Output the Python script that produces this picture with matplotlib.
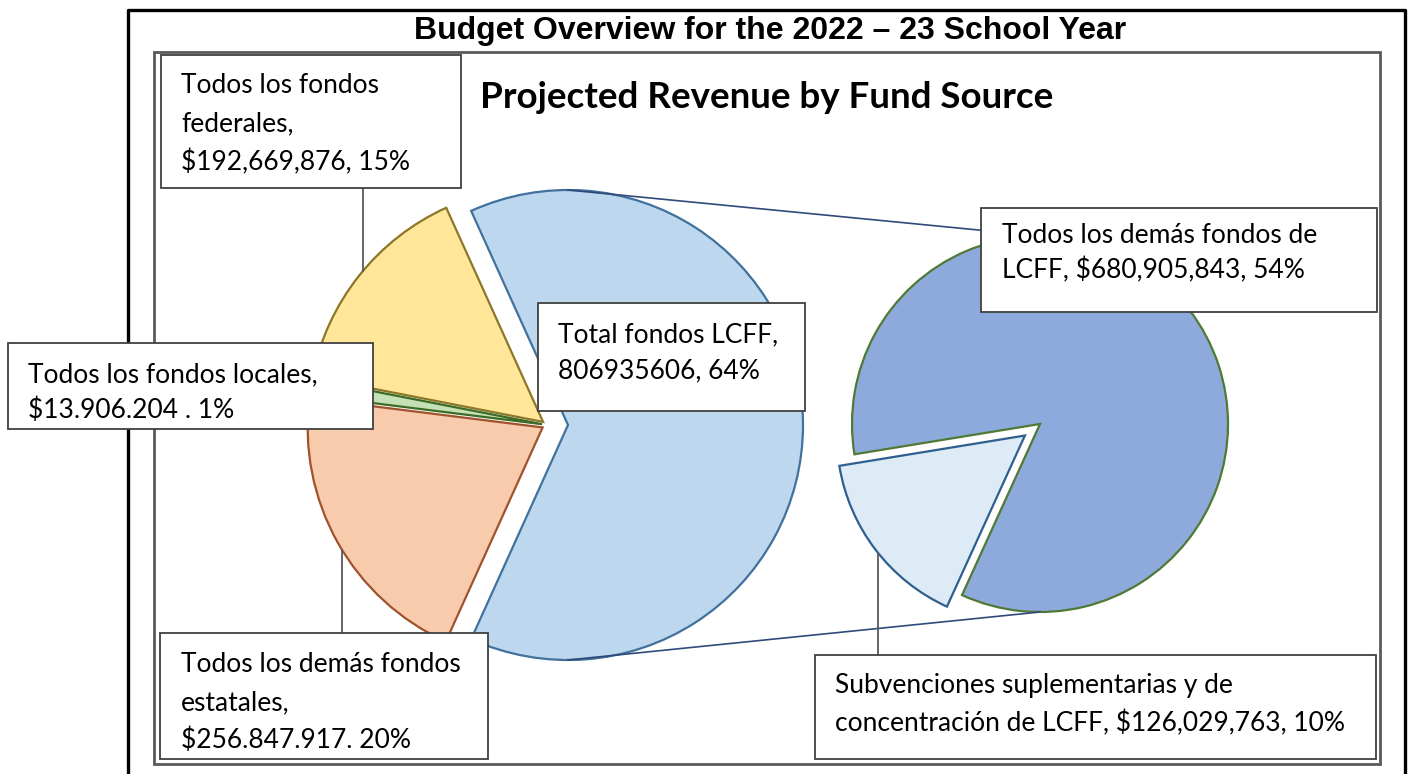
import numpy as np
import matplotlib.pyplot as plt
from matplotlib.patches import Rectangle

W, H = 1408, 774

# main pie: total revenue by fund source
main_names = ["Total fondos LCFF", "Todos los fondos federales",
              "Todos los fondos locales", "Todos los demás fondos estatales"]
main_values = [806935606, 192669876, 13906204, 256847917]
main_colors = ["#BDD7EE", "#FFE699", "#C5E0B4", "#F8CBAD"]
main_edges = ["#41719C", "#8C7728", "#3D6B25", "#A0522D"]

# secondary pie: split of LCFF
lcff_names = ["Todos los demás fondos de LCFF",
              "Subvenciones suplementarias y de concentración de LCFF"]
lcff_values = [680905843, 126029763]
lcff_colors = ["#8EA9DB", "#DDEBF7"]
lcff_edges = ["#4F7A36", "#2E5F8E"]

# label texts as printed in the source
lbl_federal = ["Todos los fondos", "federales,", "$192,669,876, 15%"]
lbl_local = ["Todos los fondos locales,", "$13.906.204 . 1%"]
lbl_lcff = ["Total fondos LCFF,", "806935606, 64%"]
lbl_other_lcff = ["Todos los demás fondos de", "LCFF, $680,905,843, 54%"]
lbl_state = ["Todos los demás fondos", "estatales,", "$256.847.917. 20%"]
lbl_supp = ["Subvenciones suplementarias y de",
            "concentración de LCFF, $126,029,763, 10%"]

TXT = "Lato"


def Y(y):
    # image row -> data y
    return H - y


fig = plt.figure(figsize=(W / 100, H / 100), dpi=100)
ax = fig.add_axes([0, 0, 1, 1])

# left pie (explode is in data units here, i.e. pixels)
c1 = (547, Y(425))
r1 = 235
start1 = -180 * main_values[0] / sum(main_values)
w1, _ = ax.pie(main_values, colors=main_colors, explode=[21, 5, 5, 5],
               startangle=start1, center=c1, radius=r1, frame=True,
               wedgeprops=dict(linewidth=1.6))
for w, ec in zip(w1, main_edges):
    w.set_edgecolor(ec)

# right pie
c2 = (1040, Y(424))
r2 = 188
w2, _ = ax.pie(lcff_values, colors=lcff_colors, explode=[0, 19],
               startangle=245.5, center=c2, radius=r2, frame=True,
               wedgeprops=dict(linewidth=1.6))
for w, ec in zip(w2, lcff_edges):
    w.set_edgecolor(ec)

# connector lines from the exploded LCFF wedge to the secondary pie
bx, by = w1[0].center
ax.plot([bx, c2[0]], [by + r1, c2[1] + r2], color="#2F4A7A", lw=1.2, zorder=1)
ax.plot([bx, c2[0]], [by - r1, c2[1] - r2], color="#2F4A7A", lw=1.2, zorder=1)


def arc_y(x, w, up=True):
    cx, cy = w.center
    dy = np.sqrt(w.r ** 2 - (x - cx) ** 2)
    return cy + dy if up else cy - dy


def box(x0, y0, x1, y1, lines, tx, base, step):
    ax.add_patch(Rectangle((x0, Y(y1)), x1 - x0, y1 - y0, facecolor="white",
                           edgecolor="#404040", lw=1.3, zorder=5))
    for i, s in enumerate(lines):
        ax.text(tx, Y(base + i * step), s, fontsize=19, family=TXT,
                va="baseline", ha="left", zorder=6)


# leader lines
ax.plot([363, 363], [Y(188), arc_y(363, w1[1])], color="#595959", lw=1.3, zorder=2)
ax.plot([342, 342], [Y(633), arc_y(342, w1[3], up=False)], color="#595959", lw=1.3, zorder=2)
ax.plot([878, 878], [Y(655), arc_y(878, w2[1], up=False)], color="#595959", lw=1.3, zorder=2)

box(161, 55, 461, 188, lbl_federal, 181, 93, 38.5)
box(8, 343, 373, 429, lbl_local, 28, 382, 36)
box(538, 303, 805, 411, lbl_lcff, 558, 342, 36)
box(981, 208, 1377, 312, lbl_other_lcff, 1002, 243, 35)
box(160, 633, 488, 759, lbl_state, 181, 672, 38)
box(815, 655, 1376, 759, lbl_supp, 835, 693, 38)

# frames (behind the label boxes)
ax.plot([128, 128, 1405, 1405], [0, Y(10), Y(10), 0], color="black", lw=2.4, zorder=3)
ax.add_patch(Rectangle((154, Y(764)), 1380 - 154, 764 - 52, fill=False,
                       edgecolor="#5A5A5A", lw=2.0, zorder=3))

# titles
ax.text(770, Y(31), "Budget Overview for the 2022 – 23 School Year", fontsize=23,
        family="Liberation Sans", weight="bold", ha="center", va="center", zorder=8)
ax.text(767, Y(98), "Projected Revenue by Fund Source", fontsize=26.5,
        family=TXT, weight="bold", ha="center", va="center", zorder=8)

ax.set_xlim(0, W)
ax.set_ylim(0, H)
ax.set_aspect("auto")
ax.axis("off")

fig.savefig("out.png", dpi=100, facecolor="white")
